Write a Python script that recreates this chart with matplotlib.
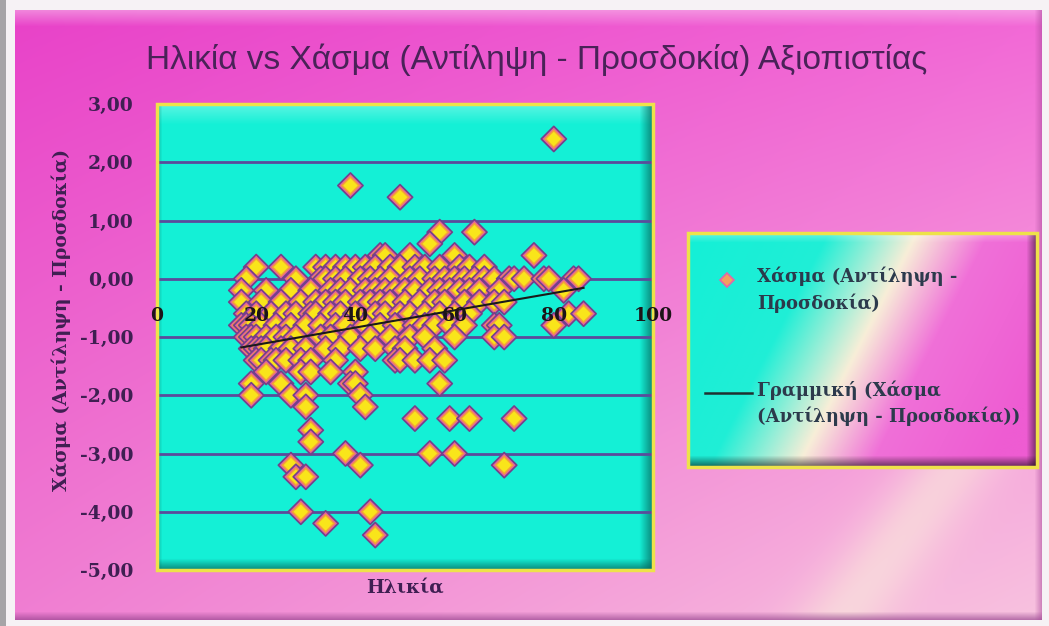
import numpy as np
import matplotlib.pyplot as plt
from matplotlib.colors import to_rgb
from matplotlib.patches import Rectangle

title = "Ηλικία vs Χάσμα (Αντίληψη - Προσδοκία) Αξιοπιστίας"
x_label = "Ηλικία"
y_label = "Χάσμα (Αντίληψη - Προσδοκία)"
series_name = "Χάσμα (Αντίληψη -\nΠροσδοκία)"
trend_name = "Γραμμική (Χάσμα\n(Αντίληψη - Προσδοκία))"

x_ticks = [0, 20, 40, 60, 80, 100]
y_ticks = [-5, -4, -3, -2, -1, 0, 1, 2, 3]
y_tick_labels = ["-5,00", "-4,00", "-3,00", "-2,00", "-1,00",
                 "0,00", "1,00", "2,00", "3,00"]

# gap score levels and the ages of the respondents at each level
gap_levels = [2.4, 1.6, 1.4, 0.8, 0.6, 0.4, 0.2, 0.0,
              -0.2, -0.4, -0.6, -0.8, -1.0, -1.2, -1.4, -1.6, -1.8, -2.0,
              -2.2, -2.4, -2.6, -2.8, -3.0, -3.2, -3.4, -4.0, -4.2, -4.4]
ages_at_level = [
    [80],
    [39],
    [49],
    [57, 64],
    [55],
    [45, 46, 51, 60, 76],
    [20, 25, 32, 34, 36, 38, 40, 42, 44, 47, 49, 52, 54, 57, 61, 63, 66],
    [18, 28, 33, 34, 36, 38, 41, 43, 45, 47, 51, 53, 56, 58, 60, 62, 64, 66,
     68, 71, 72, 74, 78, 79, 84, 85],
    [17, 22, 27, 31, 35, 37, 39, 42, 44, 46, 48, 50, 52, 55, 57, 59, 61, 63,
     65, 69, 82],
    [17, 21, 25, 29, 32, 34, 36, 38, 41, 43, 45, 47, 50, 53, 56, 58, 62, 65,
     68, 70],
    [18, 20, 23, 26, 28, 31, 32, 35, 37, 40, 44, 46, 49, 51, 54, 57, 60, 63, 83, 86],
    [17, 18, 19, 21, 24, 27, 30, 33, 36, 38, 42, 45, 48, 52, 54, 56, 59, 62,
     68, 69, 80],
    [18, 19, 20, 22, 24, 26, 28, 33, 35, 39, 43, 47, 51, 54, 60, 68, 70],
    [19, 20, 21, 22, 25, 27, 30, 34, 37, 41, 44, 48, 50, 56],
    [20, 21, 23, 24, 26, 29, 31, 36, 48, 49, 52, 55, 58],
    [22, 29, 31, 35, 40],
    [19, 25, 39, 40, 57],
    [19, 27, 30, 41],
    [30, 42],
    [52, 59, 63, 72],
    [31],
    [31],
    [38, 55, 60],
    [27, 41, 70],
    [28, 30],
    [29, 43],
    [34],
    [44],
]

age = np.concatenate([np.array(a, dtype=float) for a in ages_at_level])
gap = np.repeat(gap_levels, [len(a) for a in ages_at_level])

W, H = 1049, 626
serif = ["DejaVu Serif"]


def col(c):
    return np.array(to_rgb(c))


def blend(img, target, w):
    w = np.clip(w, 0, 1)[..., None]
    return img * (1 - w) + col(target) * w


# ---- page background: pink gradient panel with a bevelled edge
v, u = np.mgrid[0:H, 0:W].astype(float)
uf, vf = u / (W - 1), v / (H - 1)
top = col("#e840c8") * (1 - uf[..., None]) + col("#f266d6") * uf[..., None]
bot = col("#f07ed2") * (1 - uf[..., None]) + col("#f8c4df") * uf[..., None]
page = top * (1 - vf[..., None]) + bot * vf[..., None]
d = (289 * u + 215 * v - (289 * 840 + 215 * 619)) / np.hypot(289, 215)
page = blend(page, "#fbf0dc", 0.55 * np.exp(-(d / 40) ** 2) * np.clip((v - 280) / 120, 0, 1))
page = blend(page, "#f9c8ef", 0.5 * np.clip(1 - (v - 10) / 16, 0, 1))
page = blend(page, "#8e3c88", 0.6 * np.clip((v - 611) / 8, 0, 1))
page = blend(page, "#a8489a", 0.5 * np.clip((u - 1034) / 7, 0, 1))
outside = (u < 15) | (u > 1041) | (v < 10) | (v > 619)
page[outside] = col("#f6f2f5")
page[u < 6] = col("#a6a4a7")

fig = plt.figure(figsize=(W / 100, H / 100), dpi=100)
bg = fig.add_axes([0, 0, 1, 1], zorder=0)
bg.imshow(page, extent=(0, 1, 0, 1), aspect="auto", interpolation="bilinear")
bg.set_axis_off()

# ---- plot area
px0, px1, py0, py1 = 157, 653, 104, 570
ax = fig.add_axes([px0 / W, 1 - py1 / H, (px1 - px0) / W, (py1 - py0) / H], zorder=2)
ax.patch.set_alpha(0)

ph, pw = py1 - py0, px1 - px0
pv, pu = np.mgrid[0:ph, 0:pw].astype(float)
area = np.ones((ph, pw, 3)) * col("#14f0d6")
area = blend(area, "#a4faef", 0.5 * np.clip(1 - pv / 20, 0, 1))
area = blend(area, "#0a8a78", 0.5 * np.clip(1 - pu / 5, 0, 1))
area = blend(area, "#06665c", 0.8 * np.clip((pu - (pw - 14)) / 14, 0, 1))
area = blend(area, "#06665c", 0.8 * np.clip((pv - (ph - 12)) / 12, 0, 1))
ax.imshow(area, extent=(0, 100, -5, 3), aspect="auto", zorder=0, interpolation="bilinear")

for yv in y_ticks:
    ax.axhline(yv, color="#5b4b9b", lw=2.0, zorder=1)

# each point: outlined magenta rim, orange ring, yellow centre
n = len(age)
xs = np.repeat(age, 3)
ys = np.repeat(gap, 3)
sizes = np.tile([165, 98, 56], n)
faces = np.tile([col("#e4609e"), col("#f2a03c"), col("#f9e51a")], (n, 1))
edges = np.tile([col("#74408a"), col("#f2a03c"), col("#f9e51a")], (n, 1))
lws = np.tile([1.2, 0, 0], n)
ax.scatter(xs, ys, s=sizes, marker="D", c=faces, edgecolors=edges, linewidths=lws, zorder=3)

coef = np.polyfit(age, gap, 1)
xfit = np.array([age.min(), age.max()])
ax.plot(xfit, np.polyval(coef, xfit), color="#1a1a1a", lw=1.5, zorder=4)

ax.set_xlim(0, 100)
ax.set_ylim(-5, 3)
for s in ax.spines.values():
    s.set_visible(False)
ax.spines["bottom"].set_position(("data", 0))
ax.add_patch(Rectangle((0, 0), 1, 1, transform=ax.transAxes, fill=False,
                       ec="#eee24a", lw=2.5, clip_on=False, zorder=6))

ax.set_xticks(x_ticks)
ax.set_xticklabels([str(t) for t in x_ticks])
ax.set_yticks(y_ticks)
ax.set_yticklabels(y_tick_labels)
ax.tick_params(axis="x", length=0, pad=20, labelsize=13.5, labelcolor="#1c1418")
ax.tick_params(axis="y", length=0, pad=17, labelsize=13.5, labelcolor="#3f1f52")
for lab in ax.get_xticklabels() + ax.get_yticklabels():
    lab.set_fontfamily(serif)
    lab.set_fontweight("bold")
# axis labels sit on the zero line, drawn over the markers
ax.xaxis.set_zorder(7)

ax.set_ylabel(y_label, fontsize=13.5, fontweight="bold", family=serif, color="#3f1f52")
ax.yaxis.set_label_coords((61 - px0) / pw, (py1 - 320) / ph)
ax.yaxis.label.set_va("center")
ax.set_xlabel(x_label, fontsize=13.5, fontweight="bold", family=serif, color="#3f1f52")
ax.xaxis.set_label_coords(0.5, (py1 - 588) / ph)
ax.xaxis.label.set_va("center")

fig.text(537 / W, 1 - 60 / H, title, ha="center", va="center", fontsize=24,
         color="#4a2258", family=["Liberation Sans Narrow", "Liberation Sans", "DejaVu Sans"])

# ---- legend box
lx0, lx1, ly0, ly1 = 688, 1037, 233, 467
lw_, lh_ = lx1 - lx0, ly1 - ly0
leg = fig.add_axes([lx0 / W, 1 - ly1 / H, lw_ / W, lh_ / H], zorder=3)
lv, lu = np.mgrid[0:lh_, 0:lw_].astype(float)
t = lu + 0.51 * lv
stops = [0, 140, 228, 300, 420]
cols = [col(c) for c in ["#14f0d6", "#20eed6", "#f8eed8", "#f070d8", "#ee5cd2"]]
box = np.stack([np.interp(t, stops, [c[i] for c in cols]) for i in range(3)], axis=-1)
box = blend(box, "#ffffff", 0.35 * np.clip(1 - lv / 10, 0, 1))
box = box * (1 - 0.6 * np.clip((lu - (lw_ - 12)) / 12, 0, 1))[..., None]
box = box * (1 - 0.6 * np.clip((lv - (lh_ - 12)) / 12, 0, 1))[..., None]
leg.imshow(box, extent=(0, lw_, lh_, 0), aspect="auto", interpolation="bilinear")
leg.set_xlim(0, lw_)
leg.set_ylim(lh_, 0)
leg.set_axis_off()
leg.add_patch(Rectangle((0, 0), 1, 1, transform=leg.transAxes, fill=False,
                        ec="#eee24a", lw=2.5, clip_on=False))

leg.plot(39, 47, marker="D", ms=7, mfc="#f2a060", mec="#e068a8", mew=1.2)
leg.text(69, 47 - 13, series_name, va="top", ha="left", fontsize=13, fontweight="bold",
         family=serif, color="#2c3a4c", linespacing=1.45)
leg.plot([17, 64], [160, 160], color="#203030", lw=1.8)
leg.text(69, 160 - 13, trend_name, va="top", ha="left", fontsize=13, fontweight="bold",
         family=serif, color="#2c3a4c", linespacing=1.45)

fig.savefig("out.png", dpi=100)
